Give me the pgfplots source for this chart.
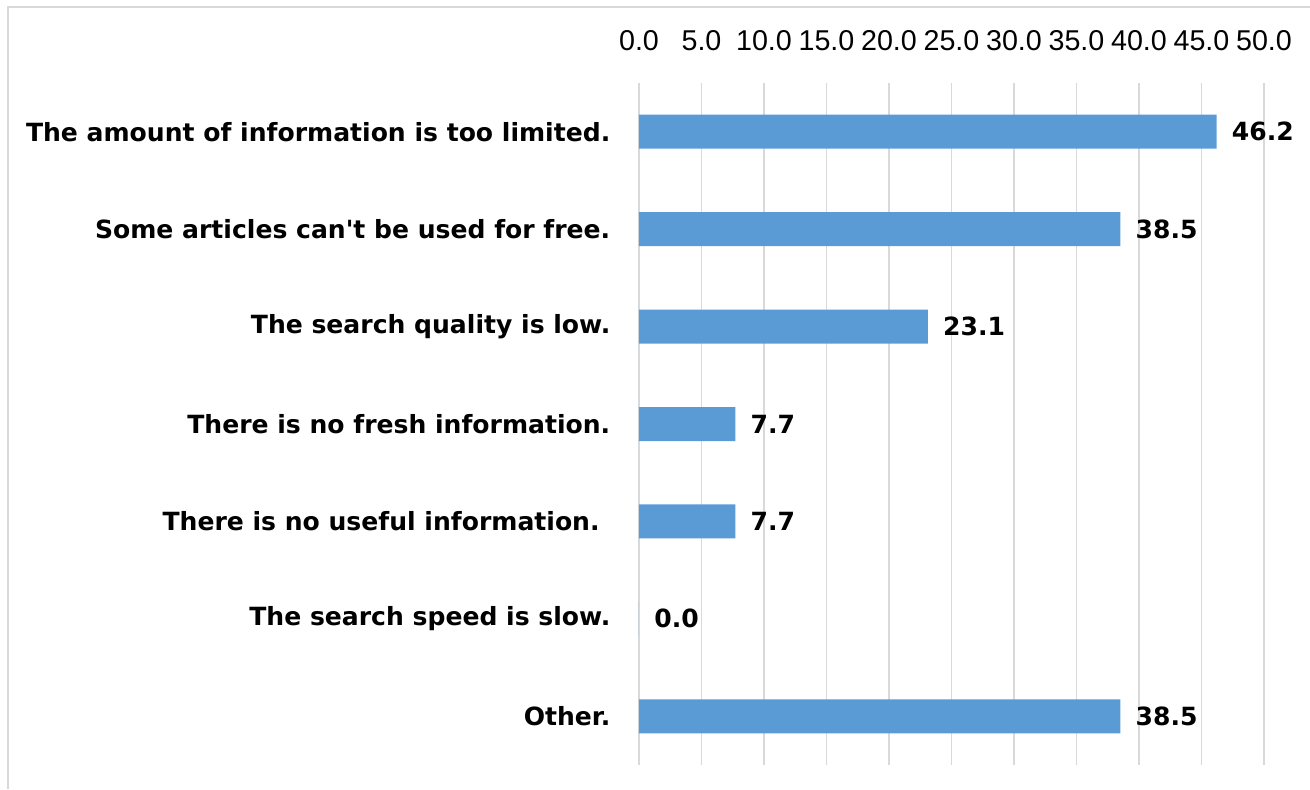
\documentclass[border=0pt]{standalone}
\usepackage{fontspec}
\setmainfont{DejaVu Sans}
\newfontfamily\tickfont{Liberation Sans}
\usepackage{pgfplots}
\pgfplotsset{compat=1.18}

\definecolor{barblue}{HTML}{5B9BD5}
\definecolor{gridgray}{HTML}{D9D9D9}

\begin{document}
\begin{tikzpicture}
% page = 1310 x 789 px, 1 px = 0.75pt
\useasboundingbox (0,0) rectangle (982.5pt,591.75pt);
\draw[gridgray, line width=1.5pt] (6pt,0) -- (6pt,586.5pt) -- (982.5pt,586.5pt);
\begin{axis}[
    at={(479.25pt,18pt)},
    anchor=south west,
    scale only axis,
    width=468.75pt,
    height=511.5pt,
    xbar,
    bar width=25.5pt,
    xmin=0, xmax=50,
    ymin=-0.5, ymax=6.5,
    y dir=reverse,
    xtick={0,5,...,50},
    ytick={0,...,6},
    yticklabels={
        The amount of information is too limited.,
        Some articles can\textquotesingle t be used for free.,
        The search quality is low.,
        There is no fresh information.,
        There is no useful information.\hspace*{8pt},
        The search speed is slow.,
        Other.},
    xticklabel pos=upper,
    xticklabel={\pgfmathprintnumber[fixed,fixed zerofill,precision=1]{\tick}},
    xticklabel style={font=\tickfont\fontsize{21.5}{21.5}\selectfont, anchor=south, yshift=21pt},
    yticklabel style={font=\bfseries\fontsize{18.8}{18.8}\selectfont, anchor=east, xshift=-18pt},
    /pgf/number format/assume math mode=true,
    major tick length=0pt,
    axis line style={draw=none},
    xmajorgrids=true,
    grid style={gridgray, line width=1.2pt},
    nodes near coords={\pgfmathprintnumber[fixed,fixed zerofill,precision=1]{\pgfplotspointmeta}},
    nodes near coords style={font=\bfseries\fontsize{18.8}{18.8}\selectfont, anchor=west, xshift=8pt},
]
\addplot[fill=barblue, draw=none]
    coordinates {
    (46.2,0) (38.5,1) (23.1,2) (7.7,3) (7.7,4) (0.0,5) (38.5,6)
    };
\end{axis}
\end{tikzpicture}
\end{document}
